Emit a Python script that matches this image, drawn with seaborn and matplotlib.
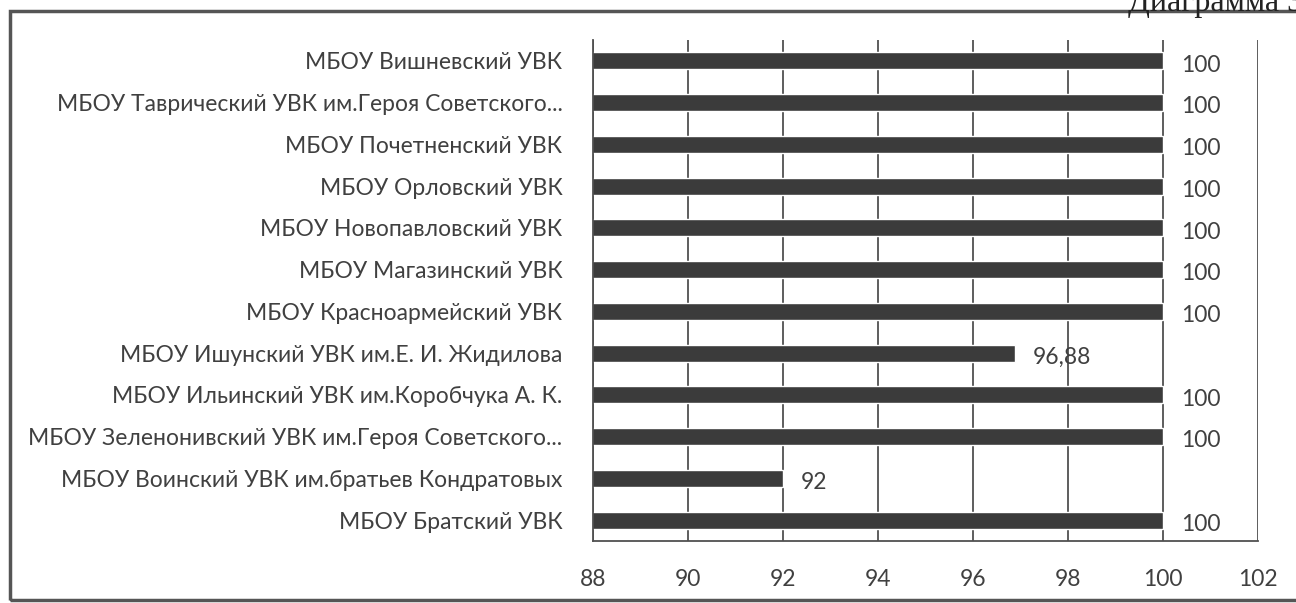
import matplotlib.pyplot as plt
import matplotlib.patches as patches
import seaborn as sns
import pandas as pd

schools = [
    'МБОУ Вишневский УВК',
    'МБОУ Таврический УВК им.Героя Советского...',
    'МБОУ Почетненский УВК',
    'МБОУ Орловский УВК',
    'МБОУ Новопавловский УВК',
    'МБОУ Магазинский УВК',
    'МБОУ Красноармейский УВК',
    'МБОУ Ишунский УВК им.Е. И. Жидилова',
    'МБОУ Ильинский УВК им.Коробчука А. К.',
    'МБОУ Зеленонивский УВК им.Героя Советского...',
    'МБОУ Воинский УВК им.братьев Кондратовых',
    'МБОУ Братский УВК',
]
values = [100, 100, 100, 100, 100, 100, 100, 96.88, 100, 100, 92, 100]
value_labels = ['100', '100', '100', '100', '100', '100', '100', '96,88', '100', '100', '92', '100']
x_ticks = [88, 90, 92, 94, 96, 98, 100, 102]

df = pd.DataFrame({'school': schools, 'value': values})

sns.set_style('white')
plt.rcParams['font.family'] = ['Lato', 'DejaVu Sans']

fig = plt.figure(figsize=(12.96, 6.03), dpi=100)
ax = fig.add_axes([593 / 1296, 1 - 541 / 603, (1258 - 593) / 1296, (541 - 40) / 603])

# вертикальная сетка под столбцами
ax.set_axisbelow(True)
ax.grid(axis='x', color='#505050', linewidth=1.3)
ax.grid(axis='y', visible=False)

sns.barplot(data=df, x='value', y='school', order=schools, orient='h',
            color='#3b3b3b', saturation=1, width=0.41, ax=ax)

ax.set_xlim(88, 102)
ax.set_ylim(11.5, -0.5)
ax.set_xticks(x_ticks)
ax.set_xlabel('')
ax.set_ylabel('')

# подписи значений (чуть ниже центра столбца, как в Excel)
for bar, lab in zip(ax.patches, value_labels):
    ax.annotate(lab, (bar.get_width(), bar.get_y() + bar.get_height() / 2),
                xytext=(13, -3), textcoords='offset points',
                ha='left', va='center', fontsize=16.5, color='#404040')

# засечки между категориями
ax.set_yticks([i - 0.5 for i in range(len(schools) + 1)], minor=True)
ax.tick_params(axis='y', which='major', length=0, pad=22, labelsize=16.5, labelcolor='#404040')
ax.tick_params(axis='y', which='minor', length=7, width=1.3, color='#505050', direction='out')
ax.tick_params(axis='x', which='major', length=8, width=1.3, color='#505050', direction='out',
               pad=12, labelsize=16.5, labelcolor='#404040')

for side in ['top', 'right']:
    ax.spines[side].set_visible(False)
for side in ['left', 'bottom']:
    ax.spines[side].set_color('#505050')
    ax.spines[side].set_linewidth(1.3)

# рамка вокруг диаграммы
frame = patches.Rectangle((10 / 1296, 3 / 603), 1.05, 1 - 14 / 603,
                          transform=fig.transFigure, fill=False,
                          edgecolor='#555555', linewidth=2.5, clip_on=False)
fig.patches.append(frame)

fig.text(1128 / 1296, 1 - 11 / 603, 'Диаграмма 3', fontsize=23,
         family='Liberation Serif', color='#222222', ha='left', va='baseline')

plt.savefig('out.png', dpi=100)
